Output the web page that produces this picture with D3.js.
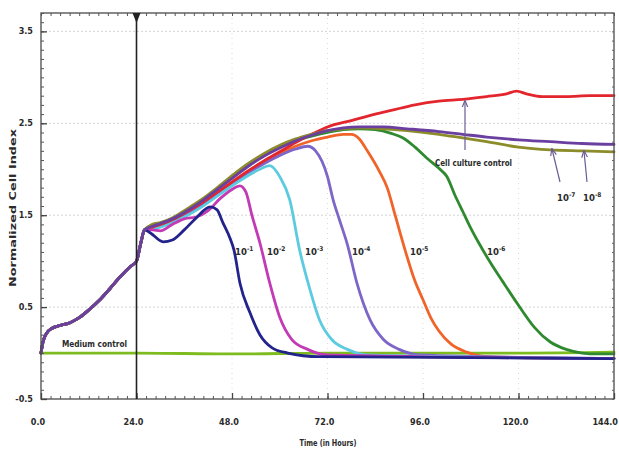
<!DOCTYPE html>
<html><head><meta charset="utf-8">
<script src="https://cdn.jsdelivr.net/npm/d3@7/dist/d3.min.js"></script>
<style>
html,body{margin:0;padding:0;background:#fff;}
svg{display:block;}
text{font-family:"Liberation Sans Narrow","DejaVu Sans Condensed","Arial Narrow",sans-serif;font-weight:bold;fill:#2a2a2a;}
</style></head>
<body>
<script>
// ---- data ----
const xTickLabels = ["0.0","24.0","48.0","72.0","96.0","120.0","144.0"];
const xTickValues = [0,24,48,72,96,120,144];
const yTickLabels = ["-0.5","0.5","1.5","2.5","3.5"];
const yTickValues = [-0.5,0.5,1.5,2.5,3.5];

const baseHours  = [0, 0.5, 1.5, 2.8, 4.8, 7.3, 9.8, 12.3, 14.8, 17.3, 19.9, 22.4, 24, 25.1, 26];
const baseValues = [0.0, 0.12, 0.22, 0.27, 0.30, 0.33, 0.39, 0.48, 0.58, 0.70, 0.83, 0.94, 1.0, 1.2, 1.34];

const mediumHours  = [0, 24, 48, 72, 96, 120, 144];
const mediumValues = [0.0, 0.0, -0.01, 0.0, 0.0, 0.0, 0.01];

const redHours  = [28, 30, 33, 36, 40, 44, 48, 52, 56, 60, 64, 68, 72, 78, 84, 88, 94, 100, 106, 112, 117, 119.5, 122, 126, 132, 138, 144];
const redValues = [1.37, 1.40, 1.45, 1.52, 1.62, 1.74, 1.86, 1.98, 2.09, 2.19, 2.29, 2.38, 2.46, 2.53, 2.60, 2.64, 2.70, 2.74, 2.76, 2.79, 2.82, 2.85, 2.82, 2.79, 2.79, 2.80, 2.80];

const e8Hours  = [28, 30, 33, 36, 40, 44, 48, 52, 56, 60, 64, 68, 72, 76, 80, 86, 92, 100, 106, 112, 120, 128, 136, 144];
const e8Values = [1.40, 1.42, 1.47, 1.55, 1.66, 1.79, 1.93, 2.06, 2.17, 2.26, 2.33, 2.38, 2.42, 2.44, 2.45, 2.44, 2.42, 2.38, 2.34, 2.30, 2.24, 2.21, 2.20, 2.19];

const e7Hours  = [28, 30, 33, 36, 40, 44, 48, 52, 56, 60, 64, 68, 72, 76, 80, 86, 92, 100, 106, 112, 120, 128, 136, 144];
const e7Values = [1.38, 1.41, 1.46, 1.53, 1.64, 1.77, 1.90, 2.03, 2.14, 2.23, 2.31, 2.37, 2.42, 2.45, 2.46, 2.46, 2.44, 2.41, 2.38, 2.35, 2.32, 2.30, 2.28, 2.27];

const e6Hours  = [28, 30, 33, 36, 40, 44, 48, 52, 56, 60, 64, 68, 72, 76, 80, 84, 88, 91, 94, 97, 100, 102, 104, 106, 108, 110, 113, 116, 120, 124, 128, 132, 136, 140, 144];
const e6Values = [1.39, 1.41, 1.46, 1.54, 1.65, 1.78, 1.91, 2.04, 2.15, 2.24, 2.31, 2.36, 2.40, 2.43, 2.44, 2.43, 2.39, 2.34, 2.24, 2.12, 2.01, 1.92, 1.72, 1.54, 1.36, 1.20, 0.98, 0.78, 0.52, 0.28, 0.12, 0.04, 0.0, -0.01, -0.01];

const e5Hours  = [28, 30, 33, 36, 40, 44, 48, 52, 56, 60, 64, 68, 72, 76, 78, 80, 82, 85, 87, 89, 91.5, 94, 96, 98, 100, 103, 107, 112, 120, 144];
const e5Values = [1.37, 1.39, 1.44, 1.51, 1.61, 1.73, 1.86, 1.98, 2.08, 2.17, 2.25, 2.31, 2.35, 2.38, 2.38, 2.33, 2.20, 1.98, 1.80, 1.50, 1.12, 0.78, 0.58, 0.38, 0.24, 0.10, 0.01, -0.04, -0.05, -0.06];

const e4Hours  = [28, 30, 33, 36, 40, 44, 48, 52, 56, 60, 64, 67, 69, 72, 73.4, 75, 77, 79.4, 82.7, 86, 90, 95, 144];
const e4Values = [1.36, 1.38, 1.43, 1.50, 1.60, 1.72, 1.84, 1.96, 2.06, 2.15, 2.22, 2.25, 2.20, 1.92, 1.67, 1.45, 1.18, 0.76, 0.36, 0.15, 0.04, -0.02, -0.06];

const e3Hours  = [28, 30, 33, 36, 40, 44, 48, 52, 55, 57.5, 60, 62.5, 65, 67.6, 70, 73, 77, 82, 144];
const e3Values = [1.35, 1.37, 1.42, 1.48, 1.58, 1.70, 1.82, 1.93, 2.00, 2.04, 1.92, 1.67, 1.12, 0.69, 0.36, 0.15, 0.04, -0.02, -0.06];

const e2Hours  = [28, 30, 33, 36, 39, 42, 45, 48, 50, 51.5, 53, 55, 57.5, 60, 63, 67, 72, 144];
const e2Values = [1.34, 1.33, 1.40, 1.46, 1.48, 1.55, 1.68, 1.78, 1.82, 1.75, 1.50, 1.20, 0.76, 0.39, 0.15, 0.04, -0.02, -0.06];

const e1Hours  = [27.4, 30.7, 33, 36, 39, 42.5, 44.2, 45.7, 47.5, 48.5, 50, 52.5, 55, 58, 62, 70, 144];
const e1Values = [1.31, 1.21, 1.23, 1.34, 1.47, 1.59, 1.56, 1.42, 1.25, 1.12, 0.76, 0.44, 0.20, 0.06, 0.0, -0.04, -0.06];

const seriesNames  = ["Medium control","Cell culture control","10-1","10-2","10-3","10-4","10-5","10-6","10-7","10-8"];
const seriesColors = ["#7dbb1f","#e3262e","#23238c","#c23bb5","#5ccbe0","#7d66c8","#f0642a","#2f8a2f","#6b3fa0","#8c8c2a"];

// ---- layout ----
const W = 619, H = 456;
const mLeft = 41, mRight = 614, mTop = 13, mBottom = 399;
const x = d3.scaleLinear().domain([0,144]).range([mLeft,mRight]);
const y = d3.scaleLinear().domain([-0.5,3.7]).range([mBottom,mTop]);

const svg = d3.select("body").append("svg").attr("width",W).attr("height",H);

// gridlines
const g = svg.append("g");
g.selectAll("line.hg").data(yTickValues.filter(v=>v>-0.5)).join("line")
  .attr("x1",mLeft).attr("x2",mRight).attr("y1",d=>y(d)).attr("y2",d=>y(d))
  .attr("stroke","#d4d4d4").attr("stroke-width",1).attr("stroke-dasharray","2,2");
g.selectAll("line.vg").data(xTickValues.filter(v=>v>24 && v<144)).join("line")
  .attr("y1",mTop).attr("y2",mBottom).attr("x1",d=>x(d)).attr("x2",d=>x(d))
  .attr("stroke","#dcdcdc").attr("stroke-width",1).attr("stroke-dasharray","1,4");

// series
function pts(h, v){ return h.map((t,i)=>[t, v[i]]); }
const base = pts(baseHours, baseValues);
const seriesData = [
  pts(mediumHours, mediumValues),
  base.concat(pts(redHours, redValues)),
  base.concat(pts(e1Hours, e1Values)),
  base.concat(pts(e2Hours, e2Values)),
  base.concat(pts(e3Hours, e3Values)),
  base.concat(pts(e4Hours, e4Values)),
  base.concat(pts(e5Hours, e5Values)),
  base.concat(pts(e6Hours, e6Values)),
  base.concat(pts(e7Hours, e7Values)),
  base.concat(pts(e8Hours, e8Values))
];
const drawOrder = [0,6,5,4,7,1,3,2,9,8];
const line = d3.line().x(d=>x(d[0])).y(d=>y(d[1])).curve(d3.curveMonotoneX);
svg.append("g").selectAll("path").data(drawOrder).join("path")
  .attr("d",i=>line(seriesData[i]))
  .attr("fill","none").attr("stroke",i=>seriesColors[i])
  .attr("stroke-width",2.8).attr("stroke-linejoin","round").attr("stroke-linecap","round");

// axes (frame with inward ticks)
const axG = svg.append("g");
const xMinor = d3.range(0,145,2.4);
const yMinor = d3.range(-0.5,3.71,0.1);
axG.append("rect").attr("x",mLeft).attr("y",mTop).attr("width",mRight-mLeft).attr("height",mBottom-mTop)
  .attr("fill","none").attr("stroke","#4a4a4a").attr("stroke-width",1.3);
axG.append("g").attr("transform",`translate(0,${mBottom})`)
  .call(d3.axisBottom(x).tickValues(xMinor).tickSize(-3).tickFormat(""))
  .call(s=>{s.select(".domain").remove(); s.selectAll("line").attr("stroke","#555");});
axG.append("g").attr("transform",`translate(0,${mBottom})`)
  .call(d3.axisBottom(x).tickValues(xTickValues).tickSize(-6).tickFormat(""))
  .call(s=>{s.select(".domain").remove(); s.selectAll("line").attr("stroke","#444").attr("stroke-width",1.3);});
axG.append("g").attr("transform",`translate(0,${mTop})`)
  .call(d3.axisTop(x).tickValues(xMinor).tickSize(-3).tickFormat(""))
  .call(s=>{s.select(".domain").remove(); s.selectAll("line").attr("stroke","#555");});
axG.append("g").attr("transform",`translate(${mLeft},0)`)
  .call(d3.axisLeft(y).tickValues(yMinor).tickSize(-3).tickFormat(""))
  .call(s=>{s.select(".domain").remove(); s.selectAll("line").attr("stroke","#555");});
axG.append("g").attr("transform",`translate(${mLeft},0)`)
  .call(d3.axisLeft(y).tickValues(yTickValues).tickSize(-6).tickFormat(""))
  .call(s=>{s.select(".domain").remove(); s.selectAll("line").attr("stroke","#444").attr("stroke-width",1.3);});
axG.append("g").attr("transform",`translate(${mRight},0)`)
  .call(d3.axisRight(y).tickValues(yMinor).tickSize(-2).tickFormat(""))
  .call(s=>{s.select(".domain").remove(); s.selectAll("line").attr("stroke","#666");});

// tick labels
svg.append("g").selectAll("text").data(xTickValues).join("text")
  .attr("x",(d,i)=> i===xTickValues.length-1 ? 618 : x(d)-3).attr("y",425)
  .attr("text-anchor",(d,i)=> i===xTickValues.length-1 ? "end" : "middle")
  .attr("font-size",9).text((d,i)=>xTickLabels[i]);
svg.append("g").selectAll("text").data(yTickValues).join("text")
  .attr("x",33).attr("y",d=>y(d)+3).attr("text-anchor","end")
  .attr("font-size",9).text((d,i)=>yTickLabels[i]);

// 24h marker line
svg.append("line").attr("x1",x(24)).attr("x2",x(24)).attr("y1",mTop).attr("y2",mBottom)
  .attr("stroke","#222").attr("stroke-width",1.6);
svg.append("path").attr("d",`M${x(24)-4},${mTop} L${x(24)+4},${mTop} L${x(24)},${mTop+10} Z`).attr("fill","#222");

// axis titles
svg.append("text").attr("x",328).attr("y",446).attr("text-anchor","middle").attr("font-size",9)
  .attr("textLength",57).attr("lengthAdjust","spacingAndGlyphs").text("Time (in Hours)");
svg.append("text").attr("transform","translate(16,208) rotate(-90)").attr("text-anchor","middle")
  .attr("font-size",9).attr("textLength",158).attr("lengthAdjust","spacingAndGlyphs").text("Normalized Cell Index");

// annotations
function ann(txt, x0, y0, len){
  svg.append("text").attr("x",x0).attr("y",y0).attr("font-size",9).attr("fill","#1e1e2e")
    .attr("textLength",len).attr("lengthAdjust","spacingAndGlyphs").text(txt);
}
ann("Medium control", 62, 347, 65);
ann("Cell culture control", 435, 166, 77);
function pow(exp, x0, y0){
  const t = svg.append("text").attr("x",x0).attr("y",y0).attr("font-size",9.5).attr("fill","#1e1e2e");
  t.append("tspan").text("10");
  t.append("tspan").attr("dy",-4).attr("font-size",6.5).text(exp);
}
pow("-1", 235, 255); pow("-2", 267, 255); pow("-3", 305, 255);
pow("-4", 352, 255); pow("-5", 410, 255); pow("-6", 487, 255);
pow("-7", 557, 201); pow("-8", 583, 201);

// arrows
const defs = svg.append("defs");
defs.append("marker").attr("id","ah").attr("viewBox","0 0 10 10").attr("refX",9).attr("refY",5)
  .attr("markerWidth",6).attr("markerHeight",6).attr("orient","auto")
  .append("path").attr("d","M0,1 L10,5 L0,9").attr("fill","none").attr("stroke","#6b5b95").attr("stroke-width",1.6);
function arrow(x1,y1,x2,y2){
  svg.append("line").attr("x1",x1).attr("y1",y1).attr("x2",x2).attr("y2",y2)
    .attr("stroke","#6b5b95").attr("stroke-width",1.2).attr("marker-end","url(#ah)");
}
arrow(465,150,465,101);
arrow(560,182,552,149);
arrow(587,182,584,151);
</script>
</body></html>
